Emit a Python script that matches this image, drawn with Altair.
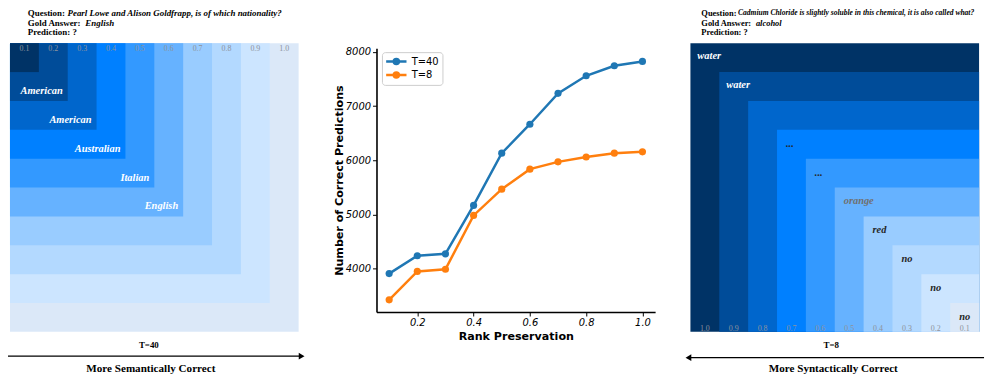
import altair as alt
import pandas as pd

# ---------------- data ----------------
levels = [0.1, 0.2, 0.3, 0.4, 0.5, 0.6, 0.7, 0.8, 0.9, 1.0]
level_labels = ["0.1", "0.2", "0.3", "0.4", "0.5", "0.6", "0.7", "0.8", "0.9", "1.0"]
shades = ["#003366", "#004c99", "#0066cc", "#0080ff", "#3399ff",
          "#66b2ff", "#99ccff", "#b3d9ff", "#cce5ff", "#dbe8f8"]
left_answers = ["", "American", "American", "Australian", "Italian",
                "English", "", "", "", ""]
right_answers = ["no", "no", "no", "red", "orange", "...", "...", "", "water", "water"]

t40_correct = [3905, 4235, 4270, 5165, 6130, 6665, 7235, 7560, 7745, 7825]
t8_correct = [3420, 3945, 3985, 4980, 5465, 5835, 5970, 6060, 6130, 6155]
series_names = ["T=40", "T=8"]
series_colors = ["#1f77b4", "#ff7f0e"]

left_question = "Pearl Lowe and Alison Goldfrapp, is of which nationality?"
left_gold = "English"
right_question = "Cadmium Chloride is slightly soluble in this chemical, it is also called what?"
right_gold = "alcohol"
left_panel_title = "T=40"
right_panel_title = "T=8"
left_caption = "More Semantically Correct"
right_caption = "More Syntactically Correct"

W, H = 988, 370
SERIF = "Liberation Serif"
SANS = "DejaVu Sans"
NARROW = "Liberation Sans Narrow"

# ---------------- tables ----------------
left_df = pd.DataFrame({"level": levels, "label": level_labels,
                        "answer": left_answers, "shade": list(range(10))})
left_df["start"] = 0.0
left_df["mid"] = left_df["level"] - 0.05
left_df = left_df.sort_values("level", ascending=False)

right_df = pd.DataFrame({"level": levels, "label": level_labels,
                         "answer": right_answers, "shade": [9 - i for i in range(10)]})
right_df["start"] = 1.0 - right_df["level"]
right_df["end"] = 1.0
right_df["mid"] = right_df["start"] + 0.05
right_df = right_df.sort_values("level", ascending=False)

perf_df = pd.DataFrame({
    "rank": levels + levels,
    "correct": t40_correct + t8_correct,
    "series": [series_names[0]] * len(levels) + [series_names[1]] * len(levels),
})

shade_scale = alt.Scale(domain=list(range(10)), range=shades)

# ---------------- left panel ----------------
lx = alt.Scale(domain=[0, 1], range=[2, 293], nice=False, zero=False)
ly = alt.Scale(domain=[0, 1], range=[34, 325], nice=False, zero=False)
lb = alt.Chart(left_df)
left_rects = lb.mark_rect(strokeWidth=0).encode(
    x=alt.X("start:Q", scale=lx, axis=None), x2="level:Q",
    y=alt.Y("start:Q", scale=ly, axis=None), y2="level:Q",
    color=alt.Color("shade:O", scale=shade_scale, legend=None),
)
left_cols = lb.mark_text(font=NARROW, fontSize=8, color="#8c929c", baseline="middle", dy=6).encode(
    x=alt.X("mid:Q", scale=lx, axis=None), y=alt.Y("start:Q", scale=ly, axis=None), text="label:N")
left_ans = lb.mark_text(font=SERIF, fontSize=10.5, fontWeight="bold", fontStyle="italic",
                        color="white", align="right", baseline="middle", dx=-5, dy=-10).encode(
    x=alt.X("level:Q", scale=lx, axis=None), y=alt.Y("level:Q", scale=ly, axis=None), text="answer:N")
left_panel = alt.layer(left_rects, left_cols, left_ans)

# ---------------- right panel ----------------
rx = alt.Scale(domain=[0, 1], range=[688, 979], nice=False, zero=False)
ry = alt.Scale(domain=[0, 1], range=[34, 325], nice=False, zero=False)
rb = alt.Chart(right_df)
right_rects = rb.mark_rect(strokeWidth=0).encode(
    x=alt.X("start:Q", scale=rx, axis=None), x2="end:Q",
    y=alt.Y("start:Q", scale=ry, axis=None), y2="end:Q",
    color=alt.Color("shade:O", scale=shade_scale, legend=None),
)
right_cols = rb.mark_text(font=NARROW, fontSize=8, color="#8c929c", baseline="middle", dy=-3).encode(
    x=alt.X("mid:Q", scale=rx, axis=None), y=alt.Y("end:Q", scale=ry, axis=None), text="label:N")
right_ans_white = rb.transform_filter("datum.level > 0.85").mark_text(
    font=SERIF, fontSize=10.5, fontWeight="bold", fontStyle="italic", color="white",
    align="left", baseline="middle", dx=7, dy=13).encode(
    x=alt.X("start:Q", scale=rx, axis=None), y=alt.Y("start:Q", scale=ry, axis=None), text="answer:N")
right_ans_dark = rb.transform_filter("datum.level < 0.85").mark_text(
    font=SERIF, fontSize=10.5, fontWeight="bold", fontStyle="italic",
    align="left", baseline="middle", dx=9, dy=14).encode(
    x=alt.X("start:Q", scale=rx, axis=None), y=alt.Y("start:Q", scale=ry, axis=None), text="answer:N",
    color=alt.condition("datum.answer == 'orange'", alt.value("#707070"), alt.value("#262626")))
right_panel = alt.layer(right_rects, right_cols, right_ans_white, right_ans_dark)

# ---------------- center line chart ----------------
AX_Y = 305
cx = alt.Scale(domain=[0.055, 1.045], range=[371.5, 652.4], nice=False, zero=False)
cy = alt.Scale(domain=[3195, 8070], range=[AX_Y, 39], nice=False, zero=False)
axis_common = dict(grid=False, domainColor="black", domainWidth=1.6, tickColor="black",
                   tickWidth=1, tickSize=4, labelFont=SANS, labelFontStyle="italic",
                   labelFontSize=10, labelColor="black", titleFont=SANS, titleFontSize=11.2,
                   titleFontWeight="bold", titleColor="black", labelFlush=False)
x_axis = alt.Axis(orient="bottom", offset=-(H - AX_Y), values=[0.2, 0.4, 0.6, 0.8, 1.0],
                  format=".1f", title="Rank Preservation", labelPadding=2,
                  titleY=25, titleBaseline="middle", **axis_common)
y_axis = alt.Axis(orient="left", offset=-371.5, values=[4000, 5000, 6000, 7000, 8000],
                  format="d", title="Number of Correct Predictions", labelPadding=2,
                  titleX=-37.5, titleY=(AX_Y + 39) / 2, titleAngle=270,
                  titleBaseline="middle", titleAlign="center", **axis_common)

SYMBOL = ("M-1,0L1,0"
          "M0.249,0A0.249,0.249,0,1,1,-0.249,0A0.249,0.249,0,1,1,0.249,0"
          "M0.073,0A0.073,0.073,0,1,1,-0.073,0A0.073,0.073,0,1,1,0.073,0")
legend = alt.Legend(title=None, orient="none", legendX=377, legendY=43,
                    symbolType=SYMBOL, symbolSize=420, symbolStrokeWidth=2.5,
                    clipHeight=13, padding=3, rowPadding=0.5, labelOffset=4,
                    labelFont=SANS, labelFontSize=10, labelColor="black",
                    strokeColor="#cccccc", fillColor="white", cornerRadius=3)
series_scale = alt.Scale(domain=series_names, range=series_colors)
pb = alt.Chart(perf_df)
lines = pb.mark_line(strokeWidth=2.5).encode(
    x=alt.X("rank:Q", scale=cx, axis=x_axis),
    y=alt.Y("correct:Q", scale=cy, axis=y_axis),
    stroke=alt.Stroke("series:N", scale=series_scale, legend=legend),
)
points = pb.mark_circle(size=52, opacity=1).encode(
    x=alt.X("rank:Q", scale=cx, axis=x_axis),
    y=alt.Y("correct:Q", scale=cy, axis=y_axis),
    fill=alt.Fill("series:N", scale=series_scale, legend=None),
)
center_panel = alt.layer(lines, points)

# ---------------- annotations ----------------
def note(text, x, y, size=9, weight="bold", style="normal", align="left", color="black", font=SERIF):
    return alt.Chart(pd.DataFrame({"t": [text]})).mark_text(
        align=align, baseline="middle", font=font, fontSize=size, fontWeight=weight,
        fontStyle=style, color=color).encode(text="t:N", x=alt.value(x), y=alt.value(y))


def arrow(x1, x2, y, head_x, shape):
    d = pd.DataFrame({"a": [0]})
    shaft = alt.Chart(d).mark_rule(color="black", strokeWidth=1.2).encode(
        x=alt.value(x1), x2=alt.value(x2), y=alt.value(y))
    head = alt.Chart(d).mark_point(shape=shape, filled=True, color="black", size=45, opacity=1).encode(
        x=alt.value(head_x), y=alt.value(y))
    return [shaft, head]


annotations = [
    note("Question:", 20, 4),
    note(left_question, 60, 4, style="italic"),
    note("Gold Answer:", 20, 13.5),
    note(left_gold, 78, 13.5, style="italic"),
    note("Prediction: ?", 20, 23),
    note("Question:", 699, 4, size=8.5),
    note(right_question, 736, 4, size=7.6, style="italic"),
    note("Gold Answer:", 699, 13.5, size=8.5),
    note(right_gold, 754, 13.5, size=8.5, style="italic"),
    note("Prediction: ?", 699, 23, size=8.5),
    note(left_panel_title, 142, 338, align="center"),
    note(right_panel_title, 830, 338.5, align="center"),
    note(left_caption, 144, 362, size=11.2, align="center"),
    note(right_caption, 832, 362, size=11.2, align="center"),
]
annotations += arrow(0, 295, 349.5, 296, "triangle-right")
annotations += arrow(686, 984, 351, 686, "triangle-left")

chart = alt.layer(left_panel, center_panel, right_panel, *annotations).resolve_scale(
    x="independent", y="independent"
).properties(
    width=W, height=H, padding=0, background="white",
    autosize=alt.AutoSizeParams(type="none"),
).configure_view(stroke=None)

chart.save("out.html", embed_options={"renderer": "svg", "actions": False})
